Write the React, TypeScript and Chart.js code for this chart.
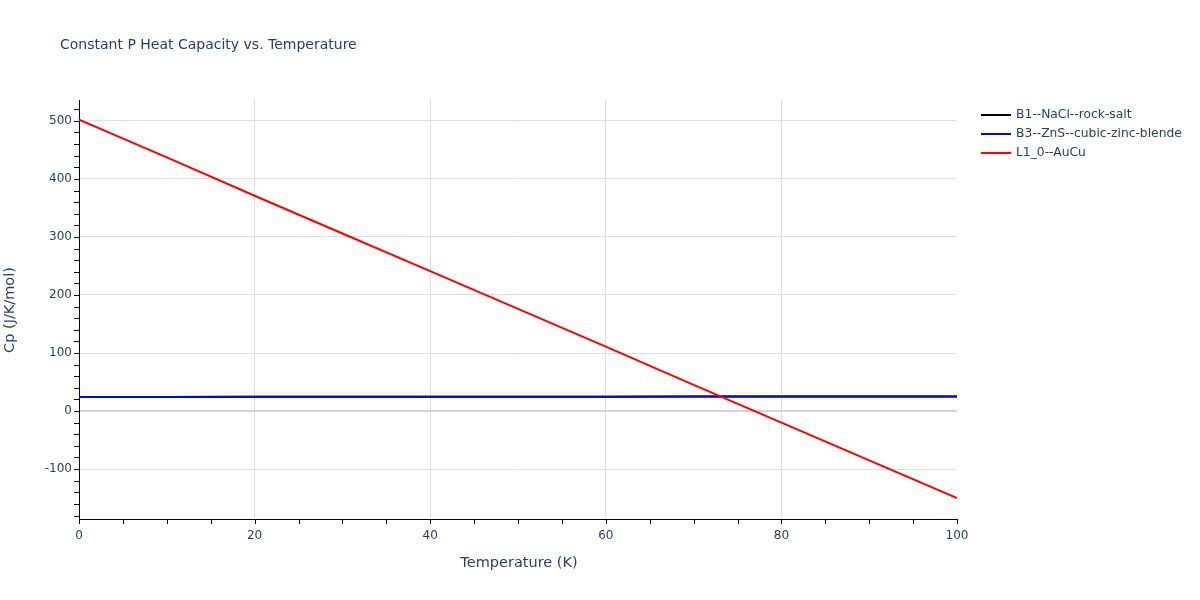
import React, { useEffect, useRef } from "react";
import { Chart, registerables } from "chart.js";

Chart.register(...registerables);

const temperatures = [0, 10, 20, 30, 40, 50, 60, 70, 80, 90, 100];
const cpB1 = [24.3, 24.4, 24.5, 24.6, 24.7, 24.8, 24.8, 24.9, 24.9, 25.0, 25.0];
const cpB3 = [24.3, 24.4, 24.5, 24.6, 24.7, 24.8, 24.8, 24.9, 24.9, 25.0, 25.0];
const cpL10 = [502, 437, 371, 306, 241, 176, 111, 45, -20, -85, -150];
const seriesLabels = ["B1--NaCl--rock-salt", "B3--ZnS--cubic-zinc-blende", "L1_0--AuCu"];
const seriesColors = ["#000000", "#0000ff", "#ff0000"];
const yTickValues = [-100, 0, 100, 200, 300, 400, 500];
const xTickValues = [0, 20, 40, 60, 80, 100];

const TEXT = "#2a3f5f";
const FONT = "'DejaVu Sans', Verdana, sans-serif";

const decorPlugin = {
  id: "decor",
  afterDraw(chart: any) {
    const ctx = chart.ctx;
    const area = chart.chartArea;
    const xs = chart.scales.x;
    const ys = chart.scales.y;
    ctx.save();
    ctx.strokeStyle = "#000";
    ctx.lineWidth = 1;
    for (let v = -180; v <= 520; v += 20) {
      const p = Math.round(ys.getPixelForValue(v)) + 0.5;
      if (p < area.top - 0.5 || p > area.bottom + 0.5) continue;
      ctx.beginPath();
      ctx.moveTo(area.left - 5, p);
      ctx.lineTo(area.left, p);
      ctx.stroke();
    }
    for (let v = 0; v <= 100; v += 5) {
      const p = Math.round(xs.getPixelForValue(v)) + 0.5;
      ctx.beginPath();
      ctx.moveTo(p, area.bottom);
      ctx.lineTo(p, area.bottom + 5);
      ctx.stroke();
    }
    ctx.fillStyle = TEXT;
    ctx.textBaseline = "middle";
    ctx.textAlign = "left";
    ctx.font = `14px ${FONT}`;
    ctx.fillText("Constant P Heat Capacity vs. Temperature", 60, 45);
    ctx.font = `14.5px ${FONT}`;
    ctx.textAlign = "center";
    ctx.fillText("Temperature (K)", 519, 563);
    ctx.save();
    ctx.translate(10, 310);
    ctx.rotate(-Math.PI / 2);
    ctx.fillText("Cp (J/K/mol)", 0, 0);
    ctx.restore();
    ctx.font = `12.3px ${FONT}`;
    ctx.textAlign = "left";
    seriesLabels.forEach((lab, i) => {
      const y = 115 + i * 19;
      ctx.strokeStyle = seriesColors[i];
      ctx.lineWidth = 2;
      ctx.beginPath();
      ctx.moveTo(981, y);
      ctx.lineTo(1011, y);
      ctx.stroke();
      ctx.fillStyle = TEXT;
      ctx.fillText(lab, 1016, y);
    });
    ctx.restore();
  },
};

export default function App() {
  const ref = useRef<HTMLCanvasElement>(null);
  useEffect(() => {
    document.body.style.margin = "0";
    const mk = (vals: number[], i: number) => ({
      label: seriesLabels[i],
      data: temperatures.map((t, k) => ({ x: t, y: vals[k] })),
      borderColor: seriesColors[i],
      backgroundColor: seriesColors[i],
      borderWidth: 2,
      pointRadius: 0,
      tension: 0,
      order: 3 - i,
    });
    const chart = new Chart(ref.current!, {
      type: "line",
      data: { datasets: [mk(cpB1, 0), mk(cpB3, 1), mk(cpL10, 2)] },
      plugins: [decorPlugin],
      options: {
        animation: false,
        responsive: false,
        devicePixelRatio: 1,
        layout: { padding: { left: 0, top: 100, right: 243, bottom: 0 } },
        plugins: { legend: { display: false }, title: { display: false }, tooltip: { enabled: false } },
        scales: {
          x: {
            type: "linear",
            min: 0,
            max: 100,
            afterFit: (s: any) => { s.height = 81; },
            afterBuildTicks: (s: any) => { s.ticks = xTickValues.map((v) => ({ value: v })); },
            grid: {
              color: (c: any) => (c.tick && (c.tick.value === 0 || c.tick.value === 100) ? "rgba(0,0,0,0)" : "#dedede"),
              drawTicks: false,
            },
            border: { color: "#000", width: 1 },
            ticks: { color: TEXT, font: { family: FONT, size: 12 }, padding: 10, maxRotation: 0 },
          },
          y: {
            type: "linear",
            min: -186,
            max: 536,
            afterFit: (s: any) => { s.width = 79; },
            afterBuildTicks: (s: any) => { s.ticks = yTickValues.map((v) => ({ value: v })); },
            grid: {
              color: (c: any) => (c.tick && c.tick.value === 0 ? "#d4d4d4" : "#dedede"),
              lineWidth: (c: any) => (c.tick && c.tick.value === 0 ? 2 : 1),
              drawTicks: false,
            },
            border: { color: "#000", width: 1 },
            ticks: { color: TEXT, font: { family: FONT, size: 12 }, padding: 7 },
          },
        },
      },
    } as any);
    return () => chart.destroy();
  }, []);
  return (
    <div style={{ position: "fixed", left: 0, top: 0, width: 1200, height: 600, background: "#fff" }}>
      <canvas ref={ref} width={1200} height={600} />
    </div>
  );
}
